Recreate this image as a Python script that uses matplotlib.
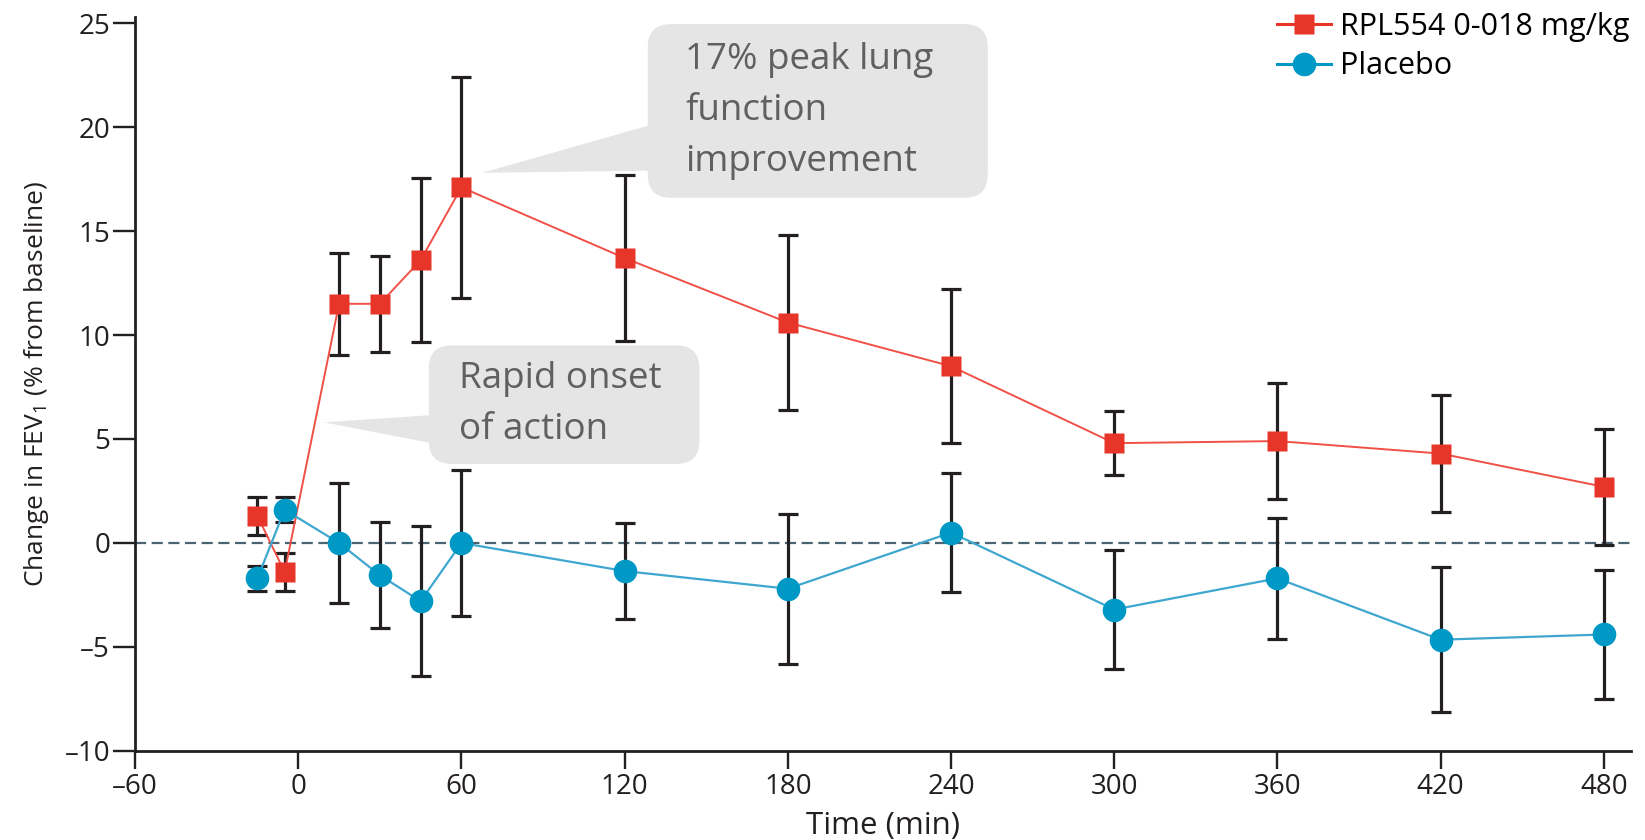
import matplotlib
matplotlib.use('Agg')
import matplotlib.pyplot as plt
from matplotlib.lines import Line2D
from matplotlib.patches import FancyBboxPatch, Polygon

plt.rcParams['font.family'] = ['Open Sans', 'DejaVu Sans']
plt.rcParams['mathtext.fontset'] = 'custom'
plt.rcParams['mathtext.rm'] = 'Open Sans'
plt.rcParams['mathtext.it'] = 'Open Sans'

#Datos: cambio en FEV1 (% respecto al basal) frente al tiempo (min)
t_rpl = [-15, -5, 15, 30, 45, 60, 120, 180, 240, 300, 360, 420, 480]
fev_rpl = [1.3, -1.4, 11.5, 11.5, 13.6, 17.1, 13.7, 10.6, 8.5, 4.8, 4.9, 4.3, 2.7]
err_rpl = [0.9, 0.9, 2.45, 2.3, 3.95, 5.3, 4.0, 4.2, 3.7, 1.55, 2.8, 2.8, 2.8]

t_pla = [-15, -5, 15, 30, 45, 60, 120, 180, 240, 300, 360, 420, 480]
fev_pla = [-1.7, 1.6, 0.0, -1.55, -2.8, 0.0, -1.35, -2.2, 0.5, -3.2, -1.7, -4.65, -4.4]
err_pla = [0.6, 0.6, 2.9, 2.55, 3.6, 3.5, 2.3, 3.6, 2.85, 2.85, 2.9, 3.5, 3.1]

xticks = [-60, 0, 60, 120, 180, 240, 300, 360, 420, 480]
yticks = [-10, -5, 0, 5, 10, 15, 20, 25]

lab_rpl = 'RPL554 0-018 mg/kg'
lab_pla = 'Placebo'

#Cuadros de texto: (x0, y0, x1, y1), punta de la flecha y base de la cuña
box_pico = (128.5, 16.6, 253.5, 24.95)
tip_pico = (67.8, 17.8)
base_pico = (20.1, 17.9)
txt_pico = '17% peak lung\nfunction\nimprovement'

box_inicio = (48.0, 3.8, 147.5, 9.5)
tip_inicio = (9.5, 5.8)
base_inicio = (6.15, 4.8)
txt_inicio = 'Rapid onset\nof action'

rojo = '#e8352a'
azul = '#0099c6'
negro = '#231f20'
gris_caja = '#e5e5e5'
gris_txt = '#606060'

fig = plt.figure(figsize=(16.45, 8.4), dpi=100)
ax = fig.add_axes([0.0821, 0.106, 0.9094, 0.874])
ax.set_xlim(-60, 490)
ax.set_ylim(-10, 25.3)

#Linea de referencia en 0
ax.axhline(0, color='#4b6472', lw=1.6, dashes=(5, 2.5), zorder=1)

#Barras de error
ax.errorbar(t_rpl, fev_rpl, yerr=err_rpl, fmt='none', ecolor=negro,
            elinewidth=2.3, capsize=7.5, capthick=2.3, zorder=3)
ax.errorbar(t_pla, fev_pla, yerr=err_pla, fmt='none', ecolor=negro,
            elinewidth=2.3, capsize=7.5, capthick=2.3, zorder=3)

#Curvas y marcadores
ax.plot(t_rpl, fev_rpl, color='#f05046', lw=1.4, zorder=4)
ax.plot(t_pla, fev_pla, color='#3fa7cf', lw=1.6, zorder=4)
ax.plot(t_rpl, fev_rpl, ls='none', marker='s', ms=15, color=rojo, mec='none', zorder=5)
ax.plot(t_pla, fev_pla, ls='none', marker='o', ms=17, color=azul, mec='none', zorder=6)

#Ejes
for lado in ['top', 'right']:
    ax.spines[lado].set_visible(False)
for lado in ['left', 'bottom']:
    ax.spines[lado].set_linewidth(2.0)
    ax.spines[lado].set_color(negro)
ax.set_xticks(xticks)
ax.set_yticks(yticks)
ax.set_xticklabels(['\u2013' + str(-v) if v < 0 else str(v) for v in xticks])
ax.set_yticklabels(['\u2013' + str(-v) if v < 0 else str(v) for v in yticks])
ax.tick_params(axis='y', direction='out', length=16, width=1.7, color=negro,
               labelsize=20, labelcolor=negro, pad=2)
ax.tick_params(axis='x', direction='out', length=13, width=1.7, color=negro,
               labelsize=20, labelcolor=negro, pad=3)
ax.set_xlabel('Time (min)', fontsize=22.5, color=negro, labelpad=7)
ax.set_ylabel('Change in FEV$_1$ (% from baseline)', fontsize=19, color=negro, labelpad=10)


#Cuadro redondeado con cuña apuntando al dato
def globo(ax, caja, punta, base, texto):
    x0, y0, x1, y1 = caja
    bb = ax.get_window_extent()
    px_x = bb.width/(ax.get_xlim()[1]-ax.get_xlim()[0])
    px_y = bb.height/(ax.get_ylim()[1]-ax.get_ylim()[0])
    r = 8.5
    asp = px_x/px_y
    p = FancyBboxPatch((x0+r, y0+r*asp), (x1-x0)-2*r, (y1-y0)-2*r*asp,
                       boxstyle='round,pad=%f,rounding_size=%f' % (r, r),
                       mutation_aspect=asp, fc=gris_caja, ec='none', zorder=2)
    ax.add_patch(p)
    cuna = Polygon([(x0+1, base[0]), punta, (x0+1, base[1])], closed=True,
                   fc=gris_caja, ec='none', zorder=2)
    ax.add_patch(cuna)
    ax.text(x0+(x1-x0)*0.11, (y0+y1)/2, texto, fontsize=26.5, color=gris_txt,
            ha='left', va='center', linespacing=1.55, zorder=7)


globo(ax, box_pico, tip_pico, base_pico, txt_pico)
globo(ax, box_inicio, tip_inicio, base_inicio, txt_inicio)

#Leyenda
h_rpl = Line2D([], [], color=rojo, lw=2.2, marker='s', ms=15, mec='none')
h_pla = Line2D([], [], color=azul, lw=2.2, marker='o', ms=17, mec='none')
ax.legend([h_rpl, h_pla], [lab_rpl, lab_pla], loc='upper right',
          bbox_to_anchor=(1.007, 1.023), frameon=False, fontsize=22,
          handlelength=1.75, handletextpad=0.3, labelspacing=0.3,
          borderaxespad=0.0)

fig.savefig('out.png', dpi=100)
